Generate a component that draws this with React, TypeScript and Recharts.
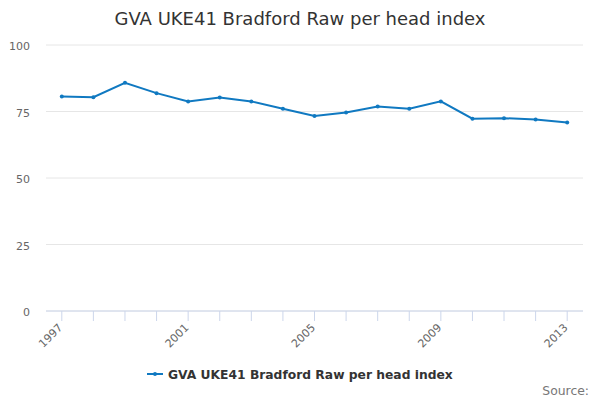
import React from 'react';
import { LineChart, Line, XAxis, YAxis, CartesianGrid } from 'recharts';

const years = ['1997', '1998', '1999', '2000', '2001', '2002', '2003', '2004', '2005', '2006', '2007', '2008', '2009', '2010', '2011', '2012', '2013'];
const values = [80.6, 80.4, 85.8, 81.9, 78.8, 80.3, 78.8, 76.0, 73.3, 74.6, 76.9, 76.0, 78.8, 72.3, 72.5, 72.0, 70.9];
const yTicks = [0, 25, 50, 75, 100];
const seriesName = 'GVA UKE41 Bradford Raw per head index';
const titleText = 'GVA UKE41 Bradford Raw per head index';
const creditText = 'Source:';

const data = years.map((y, i) => ({ year: y, value: values[i] }));

const FONT = "'DejaVu Sans', sans-serif";
const COLOR = '#1079c1';

const XTick = (props: any) => {
  const { x, y, payload, index } = props;
  const axisY = y - 12;
  const ax = x - 1;
  const ay = axisY + 15;
  return (
    <g>
      <line x1={x} x2={x} y1={axisY} y2={axisY + 10} stroke="#ccd6eb" strokeWidth={1} />
      {index % 4 === 0 ? (
        <text
          x={ax}
          y={ay}
          textAnchor="end"
          fill="#666666"
          fontSize={11}
          fontFamily={FONT}
          transform={`rotate(-45 ${ax} ${ay})`}
          dy="0.3em"
        >
          {payload.value}
        </text>
      ) : null}
    </g>
  );
};

const YTick = (props: any) => {
  const { y, payload } = props;
  return (
    <text x={30} y={y} dy={5} textAnchor="end" fill="#666666" fontSize={11} fontFamily={FONT}>
      {payload.value}
    </text>
  );
};

export default function App() {
  return (
    <div style={{ position: 'absolute', left: 0, top: 0, width: 600, height: 400, background: '#fff', fontFamily: FONT }}>
      <LineChart
        width={600}
        height={400}
        data={data}
        margin={{ top: 45, right: 17, bottom: 59, left: 0 }}
      >
        <CartesianGrid horizontal vertical={false} stroke="#e6e6e6" />
        <XAxis
          dataKey="year"
          height={30}
          interval={0}
          tickLine={false}
          tickSize={10}
          tickMargin={2}
          axisLine={{ stroke: '#ccd6eb' }}
          padding={{ left: 15.8, right: 15.8 }}
          tick={<XTick />}
        />
        <YAxis
          width={46}
          domain={[0, 100]}
          ticks={yTicks}
          axisLine={false}
          tickLine={false}
          tick={<YTick />}
        />
        <Line
          type="linear"
          dataKey="value"
          stroke={COLOR}
          strokeWidth={2}
          dot={{ r: 2, fill: COLOR, stroke: COLOR, strokeWidth: 0 }}
          isAnimationActive={false}
        />
      </LineChart>
      <svg width={600} height={400} style={{ position: 'absolute', left: 0, top: 0, pointerEvents: 'none' }}>
        <text x={300} y={24.5} textAnchor="middle" fill="#333333" fontSize={18} fontFamily={FONT}>
          {titleText}
        </text>
        <line x1={147} x2={163} y1={374} y2={374} stroke={COLOR} strokeWidth={2} />
        <circle cx={155} cy={374} r={2} fill={COLOR} />
        <text x={168} y={378.5} fill="#333333" fontSize={12.3} fontWeight="bold" fontFamily={FONT}>
          {seriesName}
        </text>
        <text x={589} y={395} textAnchor="end" fill="#777777" fontSize={12.4} fontFamily={FONT}>
          {creditText}
        </text>
      </svg>
    </div>
  );
}
